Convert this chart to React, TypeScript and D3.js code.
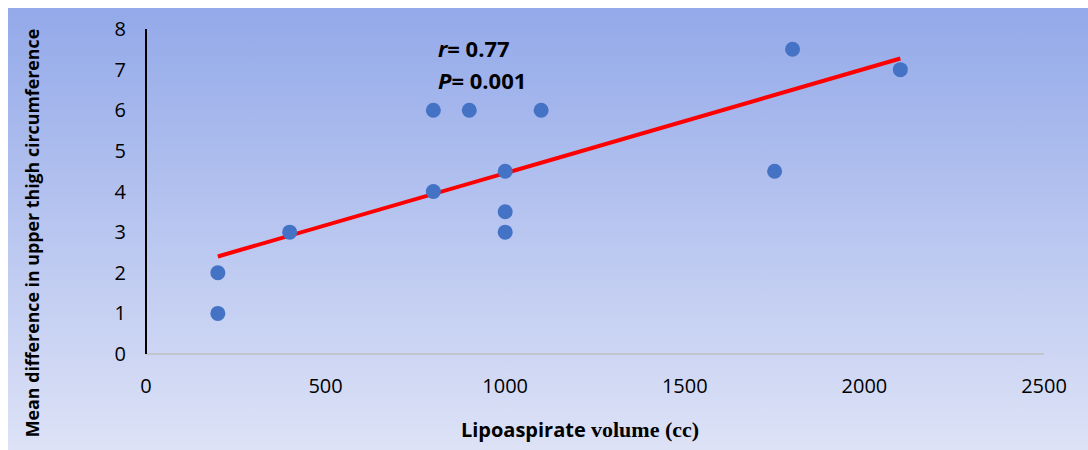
import React from 'react';
import * as d3 from 'd3';

// lipoaspirate volume (cc) and mean difference in upper thigh circumference
const volumes = [200, 200, 400, 800, 800, 900, 1000, 1000, 1000, 1100, 1750, 1800, 2100];
const diffs = [1, 2, 3, 4, 6, 6, 4.5, 3.5, 3, 6, 4.5, 7.5, 7];
const xTicks = [0, 500, 1000, 1500, 2000, 2500];
const yTicks = [0, 1, 2, 3, 4, 5, 6, 7, 8];

const W = 1088;
const H = 450;
const sans = "'Open Sans', 'Noto Sans', sans-serif";

export default function App() {
  const x = d3.scaleLinear().domain([0, 2500]).range([146, 1044]);
  const y = d3.scaleLinear().domain([0, 8]).range([354, 29]);

  // least squares trendline, drawn over the data range
  const mx = d3.mean(volumes) as number;
  const my = d3.mean(diffs) as number;
  let sxy = 0, sxx = 0;
  volumes.forEach((v, i) => {
    sxy += (v - mx) * (diffs[i] - my);
    sxx += (v - mx) * (v - mx);
  });
  const slope = sxy / sxx;
  const x0 = d3.min(volumes) as number;
  const x1 = d3.max(volumes) as number;
  const fit = (v: number) => my + slope * (v - mx);
  const line = d3.line<number>().x(v => x(v)).y(v => y(fit(v)));

  return (
    <div style={{ position: 'fixed', left: 0, top: 0, width: W, height: H }}>
      <svg width={W} height={H} style={{ display: 'block' }}>
        <defs>
          <linearGradient id="bg" x1="0" y1="0" x2="0" y2="1">
            <stop offset="0%" stopColor="#93a9e9" />
            <stop offset="100%" stopColor="#dde2f6" />
          </linearGradient>
        </defs>
        <rect x={8} y={8} width={W - 8} height={H - 8} fill="url(#bg)" />

        {/* axes */}
        <line x1={x(0)} x2={x(2500)} y1={y(0)} y2={y(0)} stroke="#bfbfbf" strokeWidth={1.5} />
        <line x1={x(0)} x2={x(0)} y1={y(0)} y2={y(8)} stroke="#000" strokeWidth={2} />

        {yTicks.map(t => (
          <text key={'y' + t} x={126} y={y(t)} dy="0.35em" textAnchor="end"
            fontFamily={sans} fontSize={20} fill="#000">{t}</text>
        ))}
        {xTicks.map(t => (
          <text key={'x' + t} x={x(t)} y={386} dy="0.35em" textAnchor="middle"
            fontFamily={sans} fontSize={20} fill="#000">{t}</text>
        ))}

        <path d={line([x0, x1]) as string} fill="none" stroke="#ff0000" strokeWidth={4} />

        {volumes.map((v, i) => (
          <circle key={i} cx={x(v)} cy={y(diffs[i])} r={7.5} fill="#4472c4" />
        ))}

        <text x={438} y={57} fontFamily={sans} fontSize={22} fontWeight="bold" fill="#000">
          <tspan fontStyle="italic">r</tspan>= 0.77
        </text>
        <text x={438} y={89} fontFamily={sans} fontSize={22} fontWeight="bold" fill="#000">
          <tspan fontStyle="italic">P</tspan>= 0.001
        </text>

        <text x={580} y={437} textAnchor="middle" fontWeight="bold" fill="#000">
          <tspan fontFamily={sans} fontSize={20}>Lipoaspirate </tspan>
          <tspan fontFamily="'Liberation Serif', 'Times New Roman', serif" fontSize={22}>volume (cc)</tspan>
        </text>

        <text transform="translate(39,233) rotate(-90)" textAnchor="middle"
          fontFamily={sans} fontSize={17.8} fontWeight="bold" fill="#000">
          Mean difference in upper thigh circumference
        </text>
      </svg>
    </div>
  );
}
